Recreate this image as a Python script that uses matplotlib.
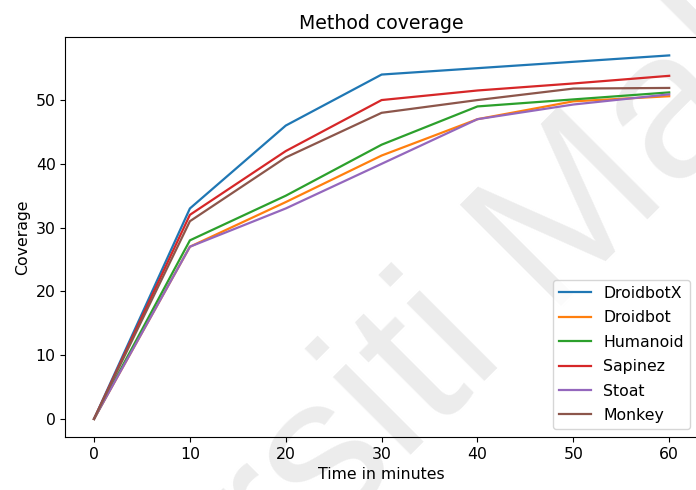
import matplotlib
matplotlib.use("Agg")
import matplotlib.pyplot as plt

time_minutes = [0, 10, 20, 30, 40, 50, 60]
droidbotx = [0, 33, 46, 54, 55, 56, 57]
droidbot = [0, 27, 34, 41.3, 47, 49.8, 50.6]
humanoid = [0, 28, 35, 43, 49, 50.1, 51.2]
sapinez = [0, 32, 42, 50, 51.5, 52.6, 53.8]
stoat = [0, 27, 33, 40, 47, 49.3, 50.9]
monkey = [0, 31, 41, 48, 50, 51.8, 51.9]

series_names = ["DroidbotX", "Droidbot", "Humanoid", "Sapinez", "Stoat", "Monkey"]
series_values = [droidbotx, droidbot, humanoid, sapinez, stoat, monkey]

fig = plt.figure(figsize=(6.96, 4.90), dpi=100)
ax = fig.add_axes([0.0938, 0.108, 0.909, 0.816])
ax.set_facecolor("none")

for name, vals in zip(series_names, series_values):
    ax.plot(time_minutes, vals, label=name, linewidth=1.6)

ax.set_title("Method coverage", fontsize=13.6)
ax.set_xlabel("Time in minutes", fontsize=11.3)
ax.set_ylabel("Coverage", fontsize=11.3)
ax.tick_params(labelsize=11.3)
ax.legend(loc="lower right", fontsize=11.3, labelspacing=0.6)

# faint watermark behind the plot
fig.text(0.611, 0.255, "Universiti Malaya", fontsize=150, color="#ececec",
         family="Liberation Sans", rotation=45, ha="center", va="center",
         rotation_mode="anchor", zorder=-1)

fig.savefig("out.png", dpi=100)
